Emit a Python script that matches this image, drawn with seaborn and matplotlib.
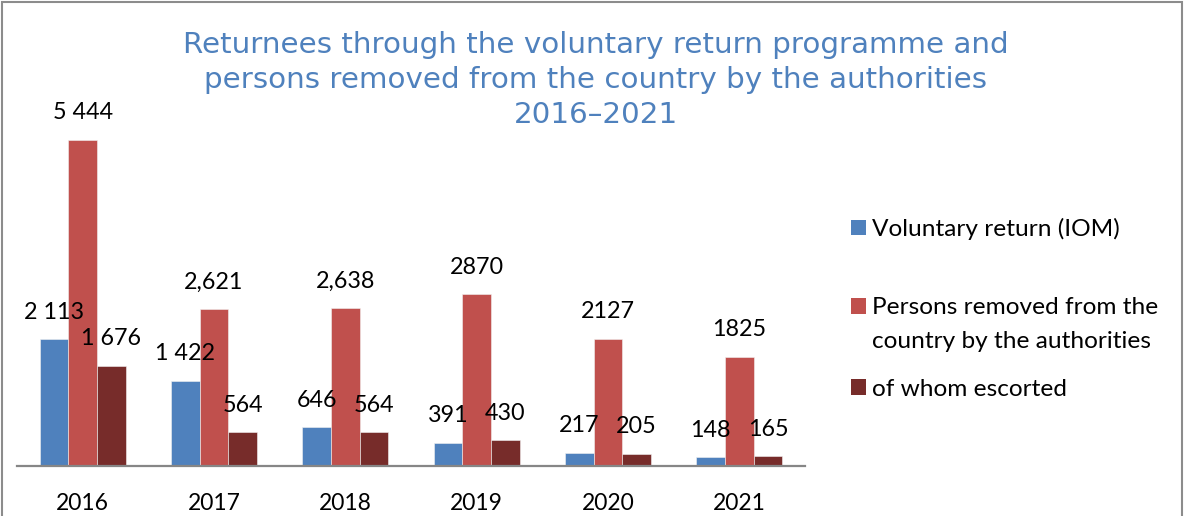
import pandas as pd
import matplotlib
matplotlib.use('Agg')
import matplotlib.pyplot as plt
from matplotlib.patches import Patch, Rectangle
import seaborn as sns

# Data
years = ['2016', '2017', '2018', '2019', '2020', '2021']
series = ['Voluntary return (IOM)',
          'Persons removed from the country by the authorities',
          'of whom escorted']
voluntary = [2113, 1422, 646, 391, 217, 148]
removed = [5444, 2621, 2638, 2870, 2127, 1825]
escorted = [1676, 564, 564, 430, 205, 165]
# labels exactly as printed in the source (mixed separators)
voluntary_labels = ['2 113', '1 422', '646', '391', '217', '148']
removed_labels = ['5 444', '2,621', '2,638', '2870', '2127', '1825']
escorted_labels = ['1 676', '564', '564', '430', '205', '165']

colors = ['#4F81BD', '#C0504D', '#772C2A']
title_lines = ['Returnees through the voluntary return programme and',
               'persons removed from the country by the authorities',
               '2016\u20132021']

df = pd.DataFrame({
    'year': years * 3,
    'value': voluntary + removed + escorted,
    'series': [s for s in series for _ in years],
})

W, H = 1187, 516
fig = plt.figure(figsize=(W / 100, H / 100), dpi=100)
ax = fig.add_axes([17 / W, 50 / H, 788 / W, 359.3 / H])

sns.barplot(data=df, x='year', y='value', hue='series', hue_order=series,
            palette=colors, saturation=1, width=0.656, edgecolor='#f2f2f2',
            linewidth=0.4, ax=ax)
ax.legend_.remove()
ax.set_ylim(0, 6000)
ax.set_xlim(-0.5, 5.5)
ax.set_xlabel('')
ax.set_ylabel('')
ax.set_yticks([])
for s in ['top', 'left', 'right']:
    ax.spines[s].set_visible(False)
ax.spines['bottom'].set_color('#868686')
ax.spines['bottom'].set_linewidth(1.6)
ax.tick_params(axis='x', length=0, pad=19.5)
for t in ax.get_xticklabels():
    t.set_fontfamily('Lato')
    t.set_fontsize(16.5)

# value labels above bars
for cont, labs in zip(ax.containers, [voluntary_labels, removed_labels, escorted_labels]):
    for bar, lab in zip(cont, labs):
        ax.annotate(lab, (bar.get_x() + bar.get_width() / 2, bar.get_height()),
                    xytext=(0, 19.5), textcoords='offset points',
                    ha='center', va='center', fontsize=16.8, family='Lato')

# title
for yy, line in zip([45, 80, 115], title_lines):
    fig.text(595.5 / W, 1 - yy / H, line, ha='center', va='center',
             fontsize=21.2, color='#4F81BD', family='DejaVu Sans')

# legend, one entry at a time to get the uneven spacing
legend_rows = [(series[0], colors[0], 229), ('Persons removed from the', colors[1], 308),
               (series[2], colors[2], 389)]
for lab, col, yy in legend_rows:
    fig.legend(handles=[Patch(facecolor=col)], labels=[lab], loc='center left',
               bbox_to_anchor=(851 / W, 1 - yy / H), frameon=False,
               handlelength=0.62, handleheight=0.62, handletextpad=0.25,
               borderpad=0, borderaxespad=0, prop={'family': 'Lato', 'size': 17.6})
fig.text(872 / W, 1 - 342 / H, 'country by the authorities', ha='left', va='center',
         fontsize=17.6, family='Lato')

# chart frame
fig.patches.append(Rectangle((2 / W, -0.05), 1180 / W, 1.05 - 2 / H, transform=fig.transFigure,
                             fill=False, edgecolor='#8c8c8c', linewidth=1.5))

fig.savefig('out.png', dpi=100)
